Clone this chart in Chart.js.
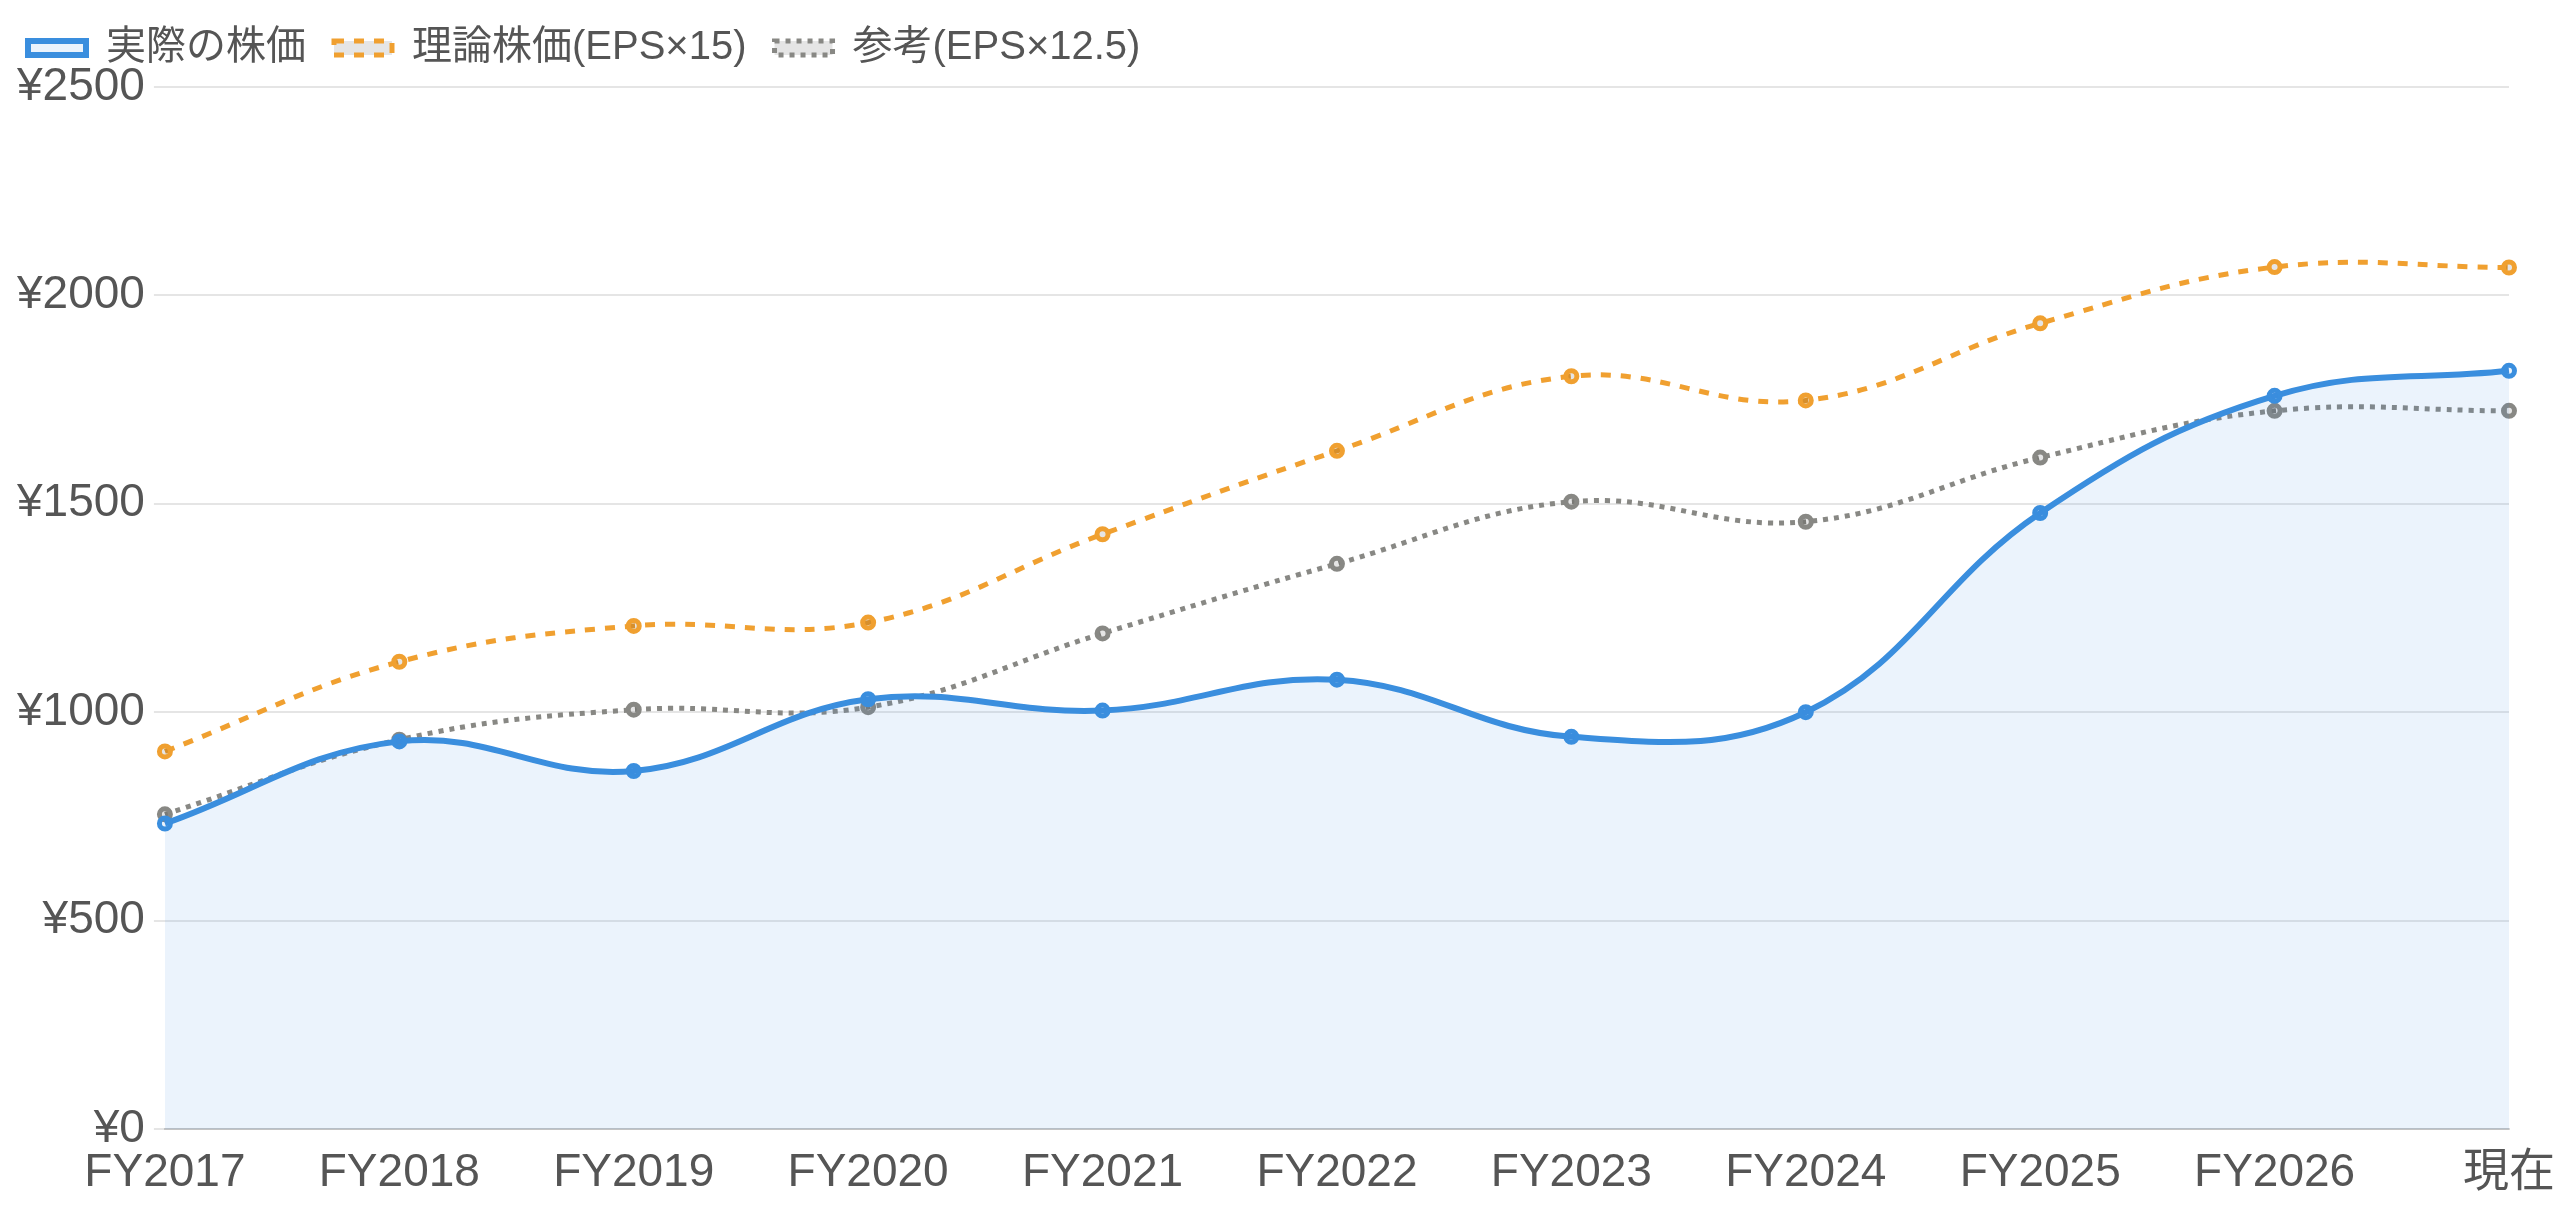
<!DOCTYPE html>
<html>
<head>
<meta charset="utf-8">
<script src="https://cdn.jsdelivr.net/npm/chart.js@4.4.1/dist/chart.umd.min.js"></script>
<style>
    body { margin: 0; background: #fff; }
    #wrap { width: 2560px; height: 1209px; position: relative; }
</style>
</head>
<body>
<div id="wrap"><canvas id="priceChart"></canvas></div>
<script>
const labels = ['FY2017', 'FY2018', 'FY2019', 'FY2020', 'FY2021', 'FY2022', 'FY2023', 'FY2024', 'FY2025', 'FY2026', '現在'];
const actualPrice = [733, 930, 859, 1031, 1004, 1078, 941, 1000, 1478, 1759, 1819];
const theoryPrice = [906, 1121, 1207, 1215, 1427, 1627, 1806, 1748, 1933, 2068, 2067];
const refPrice = [755, 934, 1006, 1012, 1189, 1356, 1505, 1457, 1611, 1723, 1723];
const yTicks = [0, 500, 1000, 1500, 2000, 2500];

Chart.defaults.font.family = '"Liberation Sans", "Noto Sans CJK JP", sans-serif';
Chart.defaults.color = '#555';

// legend needs a bit more room under it
const legendMargin = {
    id: 'legendMargin',
    beforeInit(chart) {
        if (!chart.legend) return;
        const fitValue = chart.legend.fit;
        chart.legend.fit = function fit() {
            fitValue.bind(chart.legend)();
            this.height += 9;
        };
    }
};

var ctx = document.getElementById('priceChart').getContext('2d');
var chart = new Chart(ctx, {
    type: 'line',
    data: {
        labels: labels,
        datasets: [
            {
                label: '実際の株価',
                data: actualPrice,
                borderColor: 'rgb(58, 142, 222)',
                backgroundColor: 'rgba(58, 142, 222, 0.1)',
                borderWidth: 6,
                fill: 'origin',
                tension: 0.4,
                pointRadius: 5.5,
                pointBorderWidth: 5,
                clip: false
            },
            {
                label: '理論株価(EPS×15)',
                data: theoryPrice,
                borderColor: 'rgb(240, 160, 48)',
                borderWidth: 5,
                borderDash: [10, 10],
                fill: false,
                tension: 0.4,
                pointRadius: 5.5,
                pointBorderWidth: 5,
                clip: false
            },
            {
                label: '参考(EPS×12.5)',
                data: refPrice,
                borderColor: 'rgb(136, 136, 132)',
                borderWidth: 5,
                borderDash: [5, 6],
                fill: false,
                tension: 0.4,
                pointRadius: 5.5,
                pointBorderWidth: 5,
                clip: false
            }
        ]
    },
    options: {
        responsive: true,
        maintainAspectRatio: false,
        animation: false,
        layout: {
            padding: { left: 0, right: 0, top: 0, bottom: 0 }
        },
        plugins: {
            legend: {
                align: 'start',
                labels: {
                    boxWidth: 58,
                    boxHeight: 14,
                    padding: 28,
                    font: { size: 40 }
                }
            },
            tooltip: { enabled: false }
        },
        scales: {
            x: {
                grid: { display: false },
                border: { color: 'rgba(0, 0, 0, 0.15)', width: 2 },
                ticks: { font: { size: 46, lineHeight: 1 }, padding: 13, maxRotation: 0, autoSkip: false },
                afterFit: function (axis) {
                    // pull the plot a little closer to the right edge
                    axis.paddingRight -= 8;
                }
            },
            y: {
                min: 0,
                max: 2500,
                afterBuildTicks: function (axis) {
                    axis.ticks = yTicks.map(v => ({ value: v }));
                },
                afterFit: function (axis) {
                    axis.width += 8;
                },
                grid: { color: 'rgba(0, 0, 0, 0.1)', lineWidth: 2, tickLength: 11 },
                border: { display: false },
                ticks: {
                    padding: 9,
                    font: { size: 46 },
                    callback: function (value) { return '¥' + value; }
                }
            }
        }
    },
    plugins: [legendMargin]
});
</script>
</body>
</html>
